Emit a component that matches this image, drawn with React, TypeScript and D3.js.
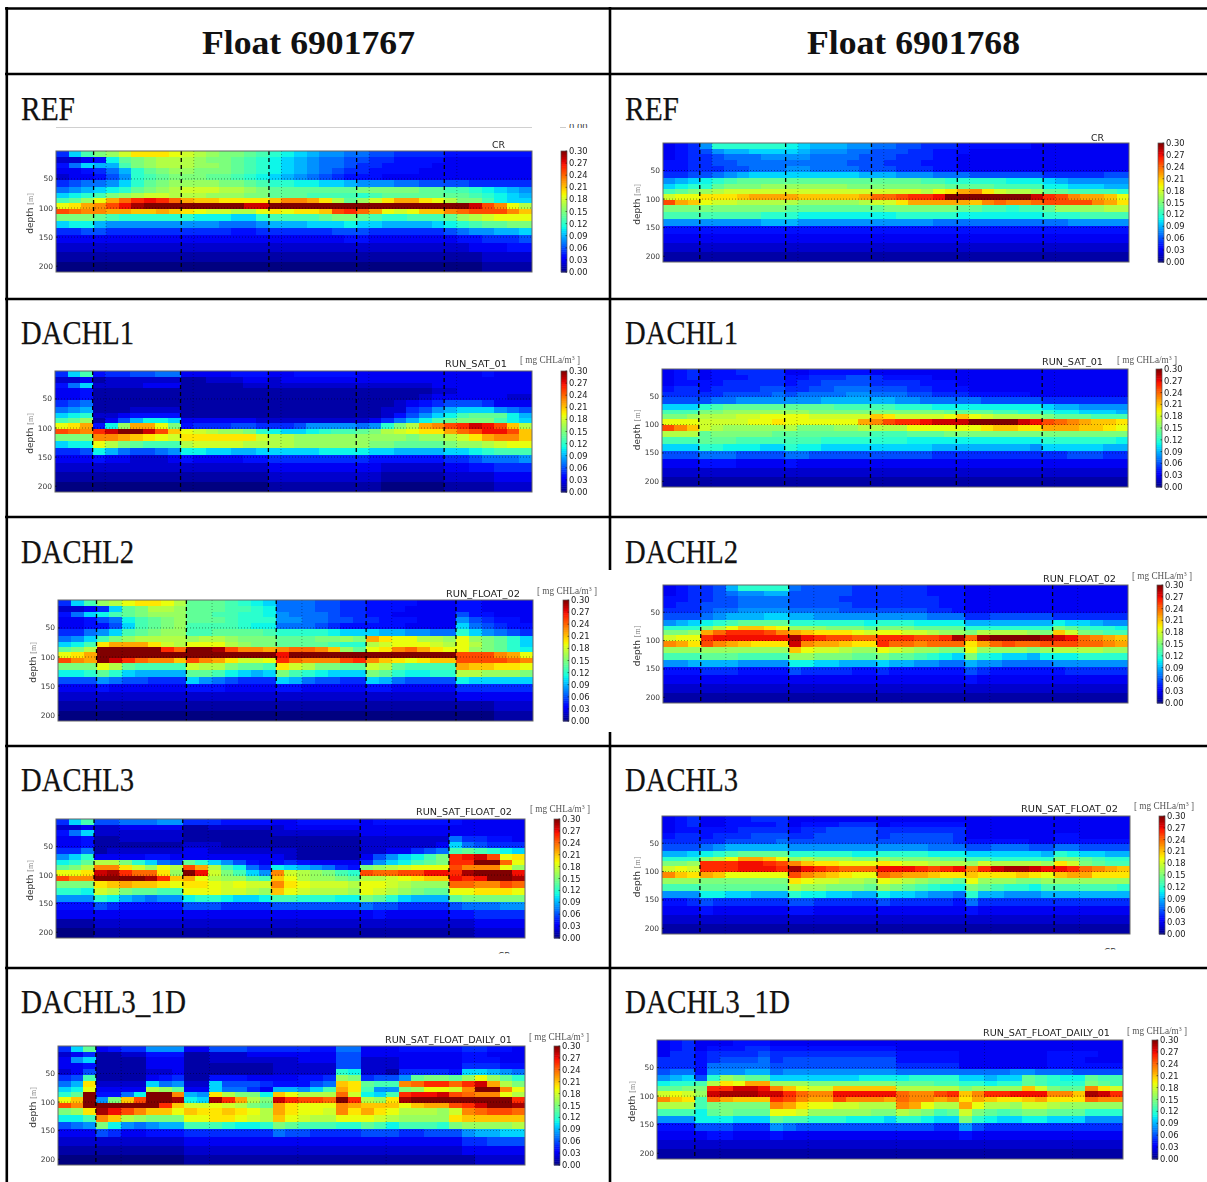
import React from "react";
import * as d3 from "d3";

// Values: one string per depth row, one base-36 digit per profile, in units of 0.01 mg CHLa/m3.
const depthEdges = [0, 13, 22, 32, 42, 52, 64, 74, 82, 91, 101, 111, 122, 134, 147, 161, 176, 192, 210];
const depthTicks = [50, 100, 150, 200];
const colorbarTicks = [0, 0.03, 0.06, 0.09, 0.12, 0.15, 0.18, 0.21, 0.24, 0.27, 0.3];
const headers = ["Float 6901767", "Float 6901768"];

const ref767 = [
  "5ad fgikkkj ihgffed cba9887 7665555 4444444",
  "223 4befghh hgffedc ba98776 6554444 3333333",
  "47a 99dfghh hggfedc ba98776 5544443 3333333",
  "334 579cefg gfffedc ba98765 5444433 3333333",
  "233 468cdef ffeedcb a987654 4433333 3333333",
  "567 78acefg gggffed ccbbaa9 8887766 6655555",
  "789 abcefgh iiihhgf eeeeeee fffffee ddcba98",
  "abc dfghiih hhgggff eeedddd cdeeeee eedcba9",
  "deg jmoqrqo mllkkkk lnnmkhe gikmmkj hffdbaa",
  "jkm nprtuuu uuuuuss uuuuuuu uuuuuuu uuspnjh",
  "pon nmmllml kjiihhj kjkklpq omjijll nopppnl",
  "fff edccccc cbbbaac ddddeff edccddd eghijjj",
  "abb 9888888 8887778 999aaab aa9999a bcdeeff",
  "556 6555555 5555445 5555566 6555555 6788 99a",
  "333 3333333 3333333 3333334 4333333 3445556",
  "222 2222222 2222222 2222222 2222222 2233344",
  "111 1111111 1111111 1111111 1111111 1112222",
  "000 0000000 0000000 0000000 0000000 0001111",
];
const ref768 = [
  "345 8cccccc ba99988 7766555 4444443 3333333",
  "345 6899aaa a988877 6665544 4333333 3333333",
  "345 5677788 8877776 6655544 3333333 3333333",
  "445 5667777 7777766 6555444 3333333 3333333",
  "445 5566777 8877776 6655544 3333333 3333333",
  "556 6789aaa aaaaaa9 9988877 7666666 5555566",
  "89a bcdeeee eeeeeee eeeeddc ccccbbb a988888",
  "abc cefffgg gggggff ffffffe eeedddd bbaaa99",
  "def ghiiiii iiiiiii iiiihjk mnkihhg eeddddc",
  "ijj kkklmmm mlllllm oopqqru uuuuuus qpnmmlj",
  "pml jiihhhh hgggggh iikmmmm mlnonno ppppnmk",
  "fff fffffff eeeeeee effffff eeddcdd egggghh",
  "ddd dddddcc cbbbbbb bbccccc bbbbbbb cccdddd",
  "888 8888899 9888888 8888877 7777777 7788888",
  "444 4444444 4444444 4444444 4444444 4444444",
  "333 3333333 3333333 3333333 3333333 3333333",
  "222 2222222 2222222 2222222 2222222 2222222",
  "111 1111111 1111111 1111111 1111111 1111111",
];
const sat767 = [
  "5ad 4556677 3333444 3344444 3333333 3334333",
  "223 1222222 1122233 2333333 3333333 3333333",
  "47a 2222333 1111122 2222222 2222223 3333333",
  "334 1111111 1111111 1111111 1111112 2333333",
  "334 1111111 1111111 1111111 1111123 3333322",
  "567 1111111 1111111 1111111 1112345 6665333",
  "789 1112222 1111111 1111111 1122568 9aaa876",
  "abc 2234444 1111111 1111111 112468a bdeeeb9",
  "deg 1369bba 3333332 2222222 23579bd efffdba",
  "jkm 4bgmmjf 4555665 5568888 78cfhmn pqsrplh",
  "pon qsuuspl jihggfc baabcdd efhijkk moprrpl",
  "fff nnmlkji kkkkkki hhggggg ggggfgg hikmnnl",
  "abb jhfeddd hiiiihh hhggggg gffeeee fgghijj",
  "556 b976678 bbaa99a aaaabbb baa9999 aabcddd",
  "333 4332223 4333344 5555555 5444444 5567778",
  "222 2222222 2222222 3333333 3322222 3344555",
  "111 1111111 1111111 2222222 2211111 2222333",
  "000 0000000 0000000 1111111 1100000 1111222",
];
const sat768 = [
  "345 3445555 3344444 3333333 3333333 3333333",
  "345 3444555 4455566 5444433 3333333 3333333",
  "344 4455555 4556666 5555444 3333333 3333333",
  "455 4555566 5566777 6665544 4333333 3333333",
  "555 5566667 6777788 7776655 5444443 3333333",
  "666 6778888 8889999 9988777 7766666 5555555",
  "aaa cdeeeee eeeeddd ddcccbb bbbbbbb a998888",
  "ddd ffggggg ggfffff ffffffe eeeddcc cbbaaa9",
  "ffg hhhiijj jjiiiii lkiiiij ljihhhg feeeddd",
  "jjj iiiijjk jjjjjjm npqqrss suuuusr ponmllk",
  "pnl ihggggg hfffggh hhhjjjj jjkllkk mmmllkj",
  "hhh efffffe eeeeeee dddeeef fffffff fffffff",
  "ddd eeedddd dddcccc cccbbbb bbbbbbb ccccccb",
  "aaa ccbbbaa cbbaaaa aaaaa99 9999998 aaaaa99",
  "666 7776666 7766666 6666655 5555555 5566655",
  "333 4443333 4333333 3333333 3333333 3333333",
  "222 2222222 2222222 2222222 2222222 2222222",
  "111 1111111 1111111 1111111 1111111 1111111",
];
const float767 = [
  "5ad ghjkkjh eeedcba 7776655 4444333 443333",
  "223 5aefhhg eeeddcb 7776655 4443333 443333",
  "47a bdefggg eeddccb 8777655 4433333 644333",
  "334 67bdefg eeedccc 8877665 5444333 865443",
  "334 46adefg ddddcbb 7776544 4443333 a76544",
  "557 8adefgg ddeeeed ccccbaa a998877 ca8765",
  "78a dfghhhh ghhgfff eeeffgf mkjjhhg jgfeca",
  "abd kmmmkih jjjhgff eeeedcc hijjjih jhfeca",
  "efh uuuuuqo uutpnnm noonlge jknomkj jgfecb",
  "jkm uuuuuuu uuuuuuu ruuuuuu uuuuuuu pppnmj",
  "pnm usqonnl pnmkiij qonnnpq nlkjkll ppppon",
  "fff jhedddd ihhfeed kihffee ihedddd mllkkj",
  "bbc eca9999 eedba9a fdcbaaa fecbbcc hhgggf",
  "666 8766555 a876555 a976655 a976666 baaaaa",
  "333 4333333 4443333 4433333 4433333 555555",
  "222 2222222 2222222 2222222 2222222 333333",
  "111 1111111 1111111 1111111 1111111 111222",
  "000 0000000 0000000 0000000 0000000 000111",
];
const float768 = [
  "345 569cccc 7666655 5555444 3333333 333333",
  "345 5678899 6666655 5555444 3333333 333333",
  "445 5667777 6666555 5555544 3333333 333333",
  "455 6667777 6666655 5555544 3333333 333333",
  "555 6778888 7777666 6666554 3333333 333333",
  "666 78999aa 9988888 8888777 5566666 555555",
  "89a bcdeeee ccccccb cccbbbb 9999999 baa988",
  "ccc fhjllkj gggfffe fffeeee ccccccc fedccb",
  "ffg moqqqpn mlkkkji jjiihgg fhhhhgf lifedd",
  "ijj qrrrrrr trqppoo qqqppqt otuuuut sronml",
  "nmk pnmlkkk snmmlkk qoonooo kmopoop ppoonm",
  "ggg ggggggg ljiihgg jihggff jggggfg hhhhgg",
  "ddd eeedddd ggfffee feedcba fcbaa9b bbcccc",
  "889 9998888 bbaa999 a998877 9887777 888888",
  "444 5554444 6555544 5444444 6544444 455555",
  "333 3333333 3333333 3333333 4333333 333333",
  "222 2222222 2222222 2222222 2222222 222222",
  "111 1111111 1111111 1111111 1111111 111111",
];
const satFloat767 = [
  "5ad 6677788 5554444 3344444 3444444 433333",
  "223 2233333 1122222 2333333 3333333 333333",
  "47a 2222222 1111111 2222222 3333333 333333",
  "334 1122222 1111111 1111111 2222222 755443",
  "334 1111111 2221111 1111111 2222223 a76555",
  "557 1222222 3322222 2211111 2233567 dedcba",
  "8ac 3333443 3333333 3211111 368abdf qrspjk",
  "bce hhfca76 eca8643 4543333 58abdef qquuoj",
  "efh nnkigjh pmhdb75 ba98754 fghijjj pnnnjg",
  "jjk stqookg urifda8 nihgfdc poopprr qtuuur",
  "pnn uuuutql mjhgged ljhggfe hhijkll rqruut",
  "fff klmllkj kkjijii nkjiiih jjihggg oonnpo",
  "ccb ihfeedd jjjiihg ljihhhg jihgfee jjkkkj",
  "888 cb98788 bccbaab ddcccbb feca999 efffff",
  "444 6544444 6665555 6666666 7665555 677788",
  "333 3333333 3333333 3333333 3433333 445555",
  "111 2222222 2222222 2222222 2222222 223333",
  "000 1111111 1111111 1111111 1111111 112222",
];
const satFloat768 = [
  "345 3344555 3333333 3333333 3333333 333333",
  "345 3344445 3444555 3444444 3333333 333333",
  "344 4445555 4556666 5555555 3333333 333333",
  "455 4555666 5566666 5666665 3333333 443333",
  "555 5566667 6666666 6666665 4444433 444444",
  "666 7899999 8888888 8888777 6677766 776666",
  "99a bcdeeee cccccbb ccccbbb aaaaaa9 cbaa99",
  "ccc ghjmmlj ghgggff gffffee ddccccc ffedcc",
  "ffg qqqrrqp nlkkjjj kjiihhh gihhhhg kifedd",
  "iji qqqrrrq trqpooo rrrqpqr nqsttsr rqonml",
  "nlk mljjjjj pnmlkjj onmmlkk lkkklkj lmmkkk",
  "ggg fffffff kjiihhg jihgffe jgggffg gggggg",
  "ddd eeeeeee hggfffe gfedcbb fedccbd dddddc",
  "888 bbaa999 cbbaa99 baa9887 c998889 999999",
  "445 6555555 6655555 6555554 7555555 555555",
  "333 4333333 4433333 3333333 4333333 333333",
  "222 2222222 2222222 2222222 2222222 222222",
  "111 1111111 1111111 1111111 1111111 111111",
];
const daily767 = [
  "5ae 3455888 3366655 5554477 3334444 455443",
  "235 1122444 1122233 3333366 3333333 344333",
  "38a 1111333 1122222 2233366 2223333 344433",
  "334 1111333 1111111 2222266 2223333 355544",
  "236 1111223 1111111 22222cb 2215555 4aa987",
  "56d 1111345 1144433 33445gf 5668eff egjgec",
  "79k 2222a78 22a6665 44467lk eddnoqq oqsmhf",
  "abj 3333hge 33a7753 998admk d88fgjj inuunj",
  "ceu 447buun 98khffb ljhhhoi badqrrs ponnjh",
  "jlu 8flpuut batqmhf sqppouq hgktuuu uuuuuq",
  "pnu uuuuuql iijihfe mkjjjnm llljlmm pqsuut",
  "fgk trpnllj lkklkjh mkjjink mkjhhhg inoppo",
  "bbd nlhgfff jjkkjih ljihhjj jihgggg klllll",
  "678 fb87899 dddcbbc fedddcc edbdddc fggggh",
  "333 6533444 5555555 7665555 6665566 6899aa",
  "222 2222222 3333333 3333333 3333333 355666",
  "111 1111111 2222222 2222222 2222222 233333",
  "000 0000000 1111111 1111111 1111111 112222",
];
const daily768 = [
  "345 3334443 3333333 3333333 3333333 333333",
  "345 3444554 4444444 4433333 3333333 333333",
  "355 4555565 5555555 5544444 3333333 444433",
  "555 4566675 6666666 6644444 3333333 444333",
  "555 4777776 6666666 6655555 3333333 444444",
  "677 4888997 8888888 8877777 7777887 776666",
  "89a 6cgfeea aaaaaab bbbcccc aa9aaed cbbedd",
  "bcc dhkjmmg ggfffff ffeeedd ccbcced cccfed",
  "eef fqqssrn ljiilll llhhhhh fggggli feenki",
  "iji gstttss qonnrrr rronnpq lnqqrrr nnltsq",
  "nlk domlllq pnmmpnn nmonnmn kmlkklm kkkonn",
  "hhh dfffffn mkjjiih hhnmjhh mjhhgii hggggg",
  "ddd befeeej jiggggg ffhgfde ifedeff eeeccc",
  "888 bbbaaae ddcccbb baccbaa fcbaabb aaa888",
  "444 6665558 7666666 6666655 8655555 555555",
  "333 3443334 3333333 3333333 4333333 333333",
  "222 2222222 2222222 2222222 2222222 222222",
  "111 1111111 1111111 1111111 1111111 111111",
];

const decode = (rows: string[]) =>
  rows.map((r) => Array.from(r.replace(/ /g, "")).map((c) => parseInt(c, 36) / 100));

// jet, as matplotlib defines it
const jet = (t: number) => {
  const red = d3.scaleLinear([0, 0.35, 0.66, 0.89, 1], [0, 0, 1, 1, 0.5]).clamp(true)(t);
  const green = d3.scaleLinear([0, 0.125, 0.375, 0.64, 0.91, 1], [0, 0, 1, 1, 0, 0]).clamp(true)(t);
  const blue = d3.scaleLinear([0, 0.11, 0.34, 0.65, 1], [0.5, 1, 1, 0, 0]).clamp(true)(t);
  return d3.rgb(red * 255, green * 255, blue * 255).formatRgb();
};
const colorOf = d3.scaleLinear([0, 0.3], [0, 1]).clamp(true);

type Panel = {
  rows: string[]; x0: number; x1: number; y0: number; y1: number; cb: number; yLab: number;
  dashed: number[]; dotted: number[];
  run?: string; runX?: number; runW?: number; runY?: number;
  unitX?: number; unitY?: number;
};

const panels: Panel[] = [
  { rows: ref767, x0: 56, x1: 532, y0: 151, y1: 272, cb: 561, yLab: 30, dashed: [3, 10, 17, 24, 31], dotted: [4, 11, 18, 25, 32], run: "CR", runX: 492, runW: 13, runY: 148 },
  { rows: ref768, x0: 663, x1: 1129, y0: 143, y1: 262, cb: 1158, yLab: 637, dashed: [3, 10, 17, 24, 31], dotted: [4, 11, 18, 25, 32], run: "CR", runX: 1091, runW: 13, runY: 141 },
  { rows: sat767, x0: 55, x1: 532, y0: 371, y1: 492, cb: 561, yLab: 30, dashed: [3, 10, 17, 24, 31], dotted: [4, 11, 18, 25, 32], run: "RUN_SAT_01", runX: 445, runW: 62, runY: 367, unitX: 520, unitY: 363 },
  { rows: sat768, x0: 662, x1: 1128, y0: 369, y1: 487, cb: 1156, yLab: 637, dashed: [3, 10, 17, 24, 31], dotted: [4, 11, 18, 25, 32], run: "RUN_SAT_01", runX: 1042, runW: 61, runY: 365, unitX: 1117, unitY: 363 },
  { rows: float767, x0: 58, x1: 533, y0: 600, y1: 721, cb: 563, yLab: 33, dashed: [3, 10, 17, 24, 31], dotted: [5, 12, 19, 26, 33], run: "RUN_FLOAT_02", runX: 446, runW: 74, runY: 597, unitX: 537, unitY: 594 },
  { rows: float768, x0: 663, x1: 1128, y0: 585, y1: 703, cb: 1157, yLab: 637, dashed: [3, 10, 17, 24, 31], dotted: [5, 12, 19, 26, 33], run: "RUN_FLOAT_02", runX: 1043, runW: 73, runY: 582, unitX: 1132, unitY: 579 },
  { rows: satFloat767, x0: 56, x1: 525, y0: 819, y1: 938, cb: 554, yLab: 30, dashed: [3, 10, 17, 24, 31], dotted: [5, 12, 19, 26, 33], run: "RUN_SAT_FLOAT_02", runX: 416, runW: 96, runY: 815, unitX: 530, unitY: 812 },
  { rows: satFloat768, x0: 662, x1: 1130, y0: 816, y1: 934, cb: 1159, yLab: 637, dashed: [3, 10, 17, 24, 31], dotted: [5, 12, 19, 26, 33], run: "RUN_SAT_FLOAT_02", runX: 1021, runW: 97, runY: 812, unitX: 1134, unitY: 809 },
  { rows: daily767, x0: 58, x1: 525, y0: 1046, y1: 1165, cb: 554, yLab: 33, dashed: [3], dotted: [5, 12, 19, 26, 33], run: "RUN_SAT_FLOAT_DAILY_01", runX: 385, runW: 127, runY: 1043, unitX: 529, unitY: 1040 },
  { rows: daily768, x0: 657, x1: 1123, y0: 1040, y1: 1159, cb: 1152, yLab: 632, dashed: [3], dotted: [5, 12, 19, 26, 33], run: "RUN_SAT_FLOAT_DAILY_01", runX: 983, runW: 127, runY: 1036, unitX: 1127, unitY: 1034 },
];

const rowLabels = [
  { t: "REF", w: 54, y: 120 },
  { t: "DACHL1", w: 113, y: 344 },
  { t: "DACHL2", w: 113, y: 563 },
  { t: "DACHL3", w: 113, y: 791 },
  { t: "DACHL3_1D", w: 165, y: 1013 },
];
const rules = [8.5, 74, 299, 517, 746, 968];
const SANS = "'DejaVu Sans', sans-serif";
const SERIF = "'Liberation Serif', serif";

function Chart({ p }: { p: Panel }) {
  const data = decode(p.rows);
  const nCols = data[0].length;
  const x = d3.scaleLinear([0, nCols], [p.x0, p.x1]);
  const y = d3.scaleLinear([2, 210], [p.y0, p.y1]).clamp(true);
  const bar = d3.scaleLinear([0, 0.3], [p.y1, p.y0]);
  const steps = d3.range(0, 64);
  const h = p.y1 - p.y0;
  return (
    <g filter="url(#soft)">
      <g shapeRendering="crispEdges">
        {data.map((row, r) =>
          row.map((v, c) => (
            <rect key={`${r}-${c}`} x={Math.round(x(c))} y={Math.round(y(depthEdges[r]))}
              width={Math.round(x(c + 1)) - Math.round(x(c))}
              height={Math.round(y(depthEdges[r + 1])) - Math.round(y(depthEdges[r]))} fill={jet(colorOf(v))} />
          ))
        )}
      </g>
      {[50, 100, 150].map((d) => (
        <line key={d} x1={p.x0} x2={p.x1} y1={y(d)} y2={y(d)} stroke="#000" strokeWidth={0.6} strokeDasharray="1 2" opacity={0.7} />
      ))}
      {p.dotted.map((c) => (
        <line key={c} x1={x(c)} x2={x(c)} y1={p.y0} y2={p.y1} stroke="#000" strokeWidth={0.6} strokeDasharray="1 2" opacity={0.6} />
      ))}
      {p.dashed.map((c) => (
        <line key={c} x1={x(c)} x2={x(c)} y1={p.y0} y2={p.y1} stroke="#000" strokeWidth={1.3} strokeDasharray="4 3" />
      ))}
      <rect x={p.x0} y={p.y0} width={p.x1 - p.x0} height={h} fill="none" stroke="#666" strokeWidth={1} />
      {depthTicks.map((d) => (
        <g key={d}>
          <line x1={p.x0} x2={p.x0 + 2} y1={y(d)} y2={y(d)} stroke="#000" strokeWidth={0.6} />
          <text x={p.x0 - 3} y={y(d) + 2.5} textAnchor="end" fontFamily={SANS} fontSize={7.5} fill="#333">{d}</text>
        </g>
      ))}
      <text transform={`translate(${p.yLab + 3},${(p.y0 + p.y1) / 2 + 2}) rotate(-90)`} textAnchor="middle" fontSize={9} fontFamily={SANS} fill="#333">
        depth <tspan fontFamily={SERIF} fontSize={8} fill="#888">[m]</tspan>
      </text>
      {p.run && (
        <text x={p.runX} y={p.runY} fontFamily={SANS} fontSize={9} fill="#222" textLength={p.runW} lengthAdjust="spacingAndGlyphs">{p.run}</text>
      )}
      {p.unitX !== undefined && (
        <text x={p.unitX} y={p.unitY} fontFamily={SERIF} fontSize={9.5} fill="#555" textLength={60} lengthAdjust="spacingAndGlyphs">
          [ mg CHLa/m<tspan fontSize={6} dy={-3}>3</tspan><tspan dy={3}> ]</tspan>
        </text>
      )}
      {steps.map((i) => (
        <rect key={i} x={p.cb} width={6} y={bar(((i + 1) / 64) * 0.3)} height={h / 64 + 0.5} fill={jet((i + 0.5) / 64)} />
      ))}
      <rect x={p.cb} y={p.y0} width={6} height={h} fill="none" stroke="#555" strokeWidth={0.7} />
      {colorbarTicks.map((t) => (
        <g key={t}>
          <line x1={p.cb + 4.5} x2={p.cb + 6} y1={bar(t)} y2={bar(t)} stroke="#000" strokeWidth={0.5} />
          <text x={p.cb + 8} y={bar(t) + 3} fontFamily={SANS} fontSize={8.4} fill="#222">{t.toFixed(2)}</text>
        </g>
      ))}
    </g>
  );
}

export default function App() {
  return (
    <svg width={1207} height={1182} viewBox="0 0 1207 1182" style={{ position: "absolute", left: 0, top: 0, display: "block", background: "#fff" }}>
      <defs>
        <filter id="soft" x="-5%" y="-5%" width="110%" height="110%">
          <feGaussianBlur stdDeviation="0.5" />
        </filter>
        <clipPath id="cutA"><rect x={555} y={124} width={40} height={4} /></clipPath>
        <clipPath id="cutB"><rect x={490} y={950} width={30} height={3.5} /></clipPath>
        <clipPath id="cutC"><rect x={1095} y={946} width={30} height={3.5} /></clipPath>
      </defs>

      {rules.map((y) => (
        <line key={y} x1={5} x2={1207} y1={y} y2={y} stroke="#000" strokeWidth={2.6} />
      ))}
      <line x1={6.8} x2={6.8} y1={7} y2={1182} stroke="#000" strokeWidth={2.6} />
      <line x1={610} x2={610} y1={7} y2={1182} stroke="#000" strokeWidth={2.6} />
      <rect x={608} y={570} width={4.5} height={162} fill="#fff" />

      {headers.map((h, i) => (
        <text key={h} x={i === 0 ? 202 : 807} y={53.5} fontFamily={SERIF} fontWeight="bold" fontSize={34} fill="#111" textLength={213} lengthAdjust="spacingAndGlyphs">{h}</text>
      ))}
      {[21, 625].map((x) =>
        rowLabels.map((l) => (
          <text key={`${x}${l.t}`} x={x} y={l.y} fontFamily={SERIF} fontSize={34} fill="#111" stroke="#111" strokeWidth={0.25} textLength={l.w} lengthAdjust="spacingAndGlyphs">{l.t}</text>
        ))
      )}

      <line x1={56} x2={532} y1={127.5} y2={127.5} stroke="#d0d0d0" strokeWidth={1} />
      <line x1={560} x2={566} y1={127.5} y2={127.5} stroke="#ccc" strokeWidth={1} />
      <g clipPath="url(#cutA)"><text x={569} y={130} fontFamily={SANS} fontSize={8.4} fill="#333">0.00</text></g>
      <g clipPath="url(#cutB)"><text x={498} y={959} fontFamily={SANS} fontSize={9} fill="#333">CR</text></g>
      <g clipPath="url(#cutC)"><text x={1104} y={955} fontFamily={SANS} fontSize={9} fill="#333">CR</text></g>

      {panels.map((p) => <Chart key={`${p.x0}-${p.y0}`} p={p} />)}
    </svg>
  );
}
